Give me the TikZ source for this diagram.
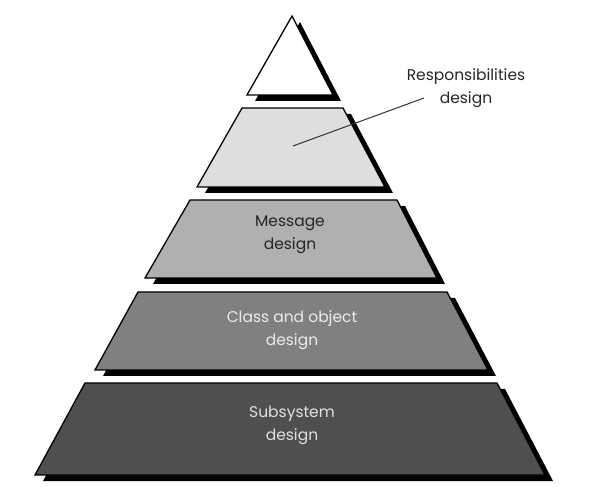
\documentclass[tikz,border=0pt]{standalone}
\usepackage{fontspec}
\setmainfont{Poppins}
\begin{document}
\begin{tikzpicture}[x=1pt,y=-1pt,
  face/.style={draw=black,line width=1.3pt,line join=miter},
  shadowfill/.style={fill=black},
  lbl/.style={align=center,font=\fontsize{15.5}{23}\selectfont,inner sep=0pt},
  leader/.style={draw=black!80,line width=1pt}]
\useasboundingbox (0,0) rectangle (600,494);
% tier 1 (apex)
\fill[shadowfill,shift={(8,6)}] (292,16) -- (333,95) -- (247,95) -- cycle;
\filldraw[face,fill=white] (292,16) -- (333,95) -- (247,95) -- cycle;
% tier 2
\fill[shadowfill,shift={(8,6)}] (242,108) -- (343,108) -- (385,187) -- (197,187) -- cycle;
\filldraw[face,fill=black!13] (242,108) -- (343,108) -- (385,187) -- (197,187) -- cycle;
% tier 3
\fill[shadowfill,shift={(8,6)}] (190,200) -- (397,200) -- (437,278) -- (145,278) -- cycle;
\filldraw[face,fill=black!31] (190,200) -- (397,200) -- (437,278) -- (145,278) -- cycle;
% tier 4
\fill[shadowfill,shift={(8,6)}] (138,292) -- (447,292) -- (488,370) -- (95,370) -- cycle;
\filldraw[face,fill=black!50] (138,292) -- (447,292) -- (488,370) -- (95,370) -- cycle;
% tier 5
\fill[shadowfill,shift={(8,6)}] (85,383) -- (497,383) -- (545,475) -- (35,475) -- cycle;
\filldraw[face,fill=black!69] (85,383) -- (497,383) -- (545,475) -- (35,475) -- cycle;
% labels
\node[lbl,text=black!85] (resp) at (466,88) {Responsibilities\\design};
\node[lbl,text=black!85] (msg) at (290,235) {Message\\design};
\node[lbl,text=black!8] (cls) at (292,330) {Class and object\\design};
\node[lbl,text=black!12] (sub) at (292,425) {Subsystem\\design};
\coordinate (pt) at (293,146);
\draw[leader] (pt) -- (424,98);
\end{tikzpicture}
\end{document}
